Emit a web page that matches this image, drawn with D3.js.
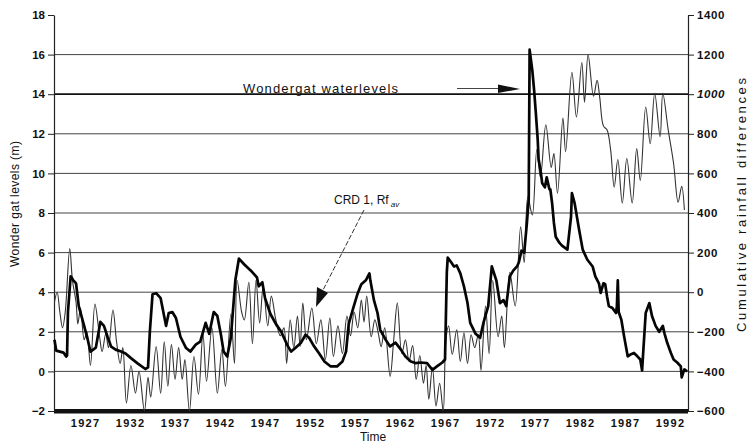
<!DOCTYPE html>
<html>
<head>
<meta charset="utf-8">
<script src="https://cdn.jsdelivr.net/npm/d3@7"></script>
<style>
  html, body { margin: 0; padding: 0; background: #fff; }
  svg { display: block; }
  text { font-family: "Liberation Sans", Arial, sans-serif; fill: #111; }
</style>
</head>
<body>
<svg id="chart" width="753" height="445"></svg>
<script>
// Wondergat water levels (m, left axis)
const levelYears = [1923.6,1923.8,1924.2,1924.6,1924.9,1925.0,1925.1,1925.3,1925.4,1925.7,1926.0,1926.3,1926.9,1927.3,1927.6,1928.2,1928.7,1929.1,1929.5,1929.9,1930.4,1931.0,1931.5,1932.1,1932.8,1933.7,1934.0,1934.2,1934.5,1934.9,1935.4,1936.0,1936.3,1936.7,1937.1,1937.6,1938.2,1938.7,1939.3,1939.8,1940.4,1940.8,1941.3,1941.7,1942.1,1942.4,1942.8,1943.2,1943.7,1944.1,1944.7,1945.4,1946.1,1946.3,1946.7,1947.0,1947.6,1948.2,1948.8,1949.5,1949.9,1950.4,1951.0,1951.5,1951.9,1952.4,1953.0,1953.6,1954.3,1955.0,1955.6,1956.0,1956.3,1956.8,1957.3,1957.7,1958.2,1958.6,1958.7,1959.1,1959.5,1959.8,1960.4,1960.9,1961.5,1962.1,1962.6,1963.2,1963.7,1964.3,1965.0,1965.6,1966.1,1966.7,1967.0,1967.2,1967.3,1967.7,1968.0,1968.3,1968.7,1969.1,1969.5,1969.8,1970.4,1970.9,1971.3,1971.8,1972.2,1972.7,1973.1,1973.5,1973.8,1974.2,1974.6,1975.0,1975.2,1975.5,1975.8,1976.1,1976.3,1976.4,1976.7,1976.9,1977.1,1977.3,1977.4,1977.6,1977.8,1978.1,1978.3,1978.6,1978.7,1978.9,1979.1,1979.3,1979.7,1980.0,1980.6,1981.0,1981.1,1981.4,1981.9,1982.3,1982.8,1983.4,1983.7,1984.1,1984.3,1984.6,1984.8,1985.0,1985.2,1985.6,1986.0,1986.1,1986.2,1986.3,1986.6,1986.9,1987.3,1987.6,1988.0,1988.4,1988.7,1988.9,1989.0,1989.3,1989.7,1990.0,1990.4,1990.8,1991.2,1991.4,1991.7,1992.1,1992.4,1992.8,1993.2,1993.3,1993.6,1993.9];
const levelValues = [1.6,1.05,1.0,0.95,0.75,0.8,3.0,4.2,4.8,4.6,4.45,3.3,2.3,1.6,1.0,1.2,2.5,2.3,1.75,1.25,1.1,1.0,0.9,0.67,0.42,0.12,0.2,2.0,3.9,3.95,3.7,2.3,2.95,3.0,2.7,1.75,1.2,1.0,1.35,1.5,2.45,1.9,3.0,2.8,1.85,1.0,0.75,1.7,4.6,5.7,5.4,5.1,4.75,4.3,4.5,3.7,2.9,2.4,2.0,1.3,1.0,1.2,1.45,1.85,1.7,1.3,0.92,0.5,0.25,0.25,0.5,1.0,2.4,3.2,3.95,4.4,4.6,4.95,4.6,3.6,2.95,2.1,1.6,1.26,1.45,1.1,0.75,0.5,0.42,0.45,0.42,0.08,0.25,0.45,0.6,5.0,5.75,5.5,5.3,5.35,4.95,4.3,3.45,2.45,1.9,1.7,2.5,3.3,5.3,4.6,3.45,3.6,3.3,4.8,5.1,5.3,5.5,6.1,6.0,7.5,8.7,16.25,15.2,14.2,13.0,11.7,10.7,10.2,9.5,9.3,9.8,9.2,9.2,8.5,7.5,6.8,6.5,6.35,6.15,7.8,9.0,8.5,7.15,6.15,5.65,5.3,4.8,4.45,3.96,4.45,4.4,3.8,3.3,3.2,2.95,3.3,4.6,3.0,2.6,1.77,0.76,0.85,0.93,0.75,0.6,0.05,0.8,2.95,3.45,2.8,2.3,2.0,2.3,1.9,1.43,0.93,0.6,0.45,0.25,-0.3,0.1,0.0];

// CRD 1, cumulative rainfall differences (right axis)
const crdYears = [1923.6,1923.9,1924.2,1924.5,1924.8,1925.3,1925.6,1926.0,1926.2,1926.5,1926.9,1927.2,1927.6,1928.1,1928.6,1928.9,1929.3,1929.6,1930.1,1930.5,1930.9,1931.2,1931.6,1932.1,1932.6,1933.0,1933.6,1934.0,1934.3,1934.9,1935.4,1935.8,1936.2,1936.6,1937.0,1937.4,1937.8,1938.1,1938.6,1939.1,1939.6,1940.1,1940.5,1941.1,1941.7,1942.2,1942.6,1943.2,1943.6,1943.9,1944.4,1944.7,1945.2,1945.6,1946.0,1946.4,1946.8,1947.3,1947.7,1948.2,1948.7,1949.1,1949.4,1949.8,1950.2,1950.6,1950.9,1951.2,1951.6,1952.2,1952.7,1953.2,1953.7,1954.2,1954.6,1955.1,1955.6,1956.1,1956.5,1956.9,1957.3,1957.7,1958.0,1958.3,1958.8,1959.2,1959.6,1959.9,1960.3,1960.9,1961.3,1961.7,1962.2,1962.6,1963.0,1963.4,1963.8,1964.2,1964.6,1964.9,1965.2,1965.6,1966.0,1966.4,1966.8,1967.1,1967.4,1967.8,1968.3,1968.7,1969.1,1969.5,1969.9,1970.3,1970.7,1971.0,1971.5,1971.9,1972.3,1972.9,1973.3,1973.6,1974.2,1974.8,1975.4,1975.8,1976.2,1976.7,1977.2,1977.6,1978.2,1978.8,1979.1,1979.5,1980.1,1980.4,1981.1,1981.6,1982.2,1982.5,1982.9,1983.5,1983.9,1984.2,1984.6,1985.0,1985.4,1985.8,1986.2,1986.7,1987.2,1987.8,1988.3,1988.7,1989.3,1989.8,1990.3,1990.9,1991.2,1991.8,1992.4,1992.9,1993.3,1993.6];
const crdValues = [-50,0,-100,-180,-100,220,60,-50,-160,-80,-240,-200,-370,-60,-220,-300,-210,-280,-90,-250,-360,-280,-560,-370,-510,-400,-600,-430,-530,-275,-510,-250,-475,-265,-440,-280,-440,-340,-600,-325,-515,-210,-450,-180,-510,-290,-475,-110,-360,60,-100,-140,50,-260,60,-155,30,-170,-20,-140,-220,-180,-360,-140,-280,-120,-275,-55,-240,-80,-260,-140,-340,-130,-325,-170,-310,-120,-220,-100,-180,-40,-150,-20,-225,-140,-210,-275,-180,-425,-240,-55,-310,-240,-350,-270,-440,-320,-460,-370,-540,-380,-575,-460,-600,-240,-170,-315,-190,-350,-205,-360,-215,-280,-215,-395,-70,-310,60,-225,-120,-280,100,-70,330,150,480,390,720,580,845,630,700,500,880,710,1110,885,1160,960,1200,990,1070,980,840,820,720,530,670,450,675,450,725,565,935,750,1005,785,1005,820,650,455,535,415];

// Axis ticks and labels
const levelTicks = [-2,0,2,4,6,8,10,12,14,16,18];
const crdTicks = [-600,-400,-200,0,200,400,600,800,1000,1200,1400];
const yearTicks = [1927,1932,1937,1942,1947,1952,1957,1962,1967,1972,1977,1982,1987,1992];

const svg = d3.select("#chart");
const plotLeft = 54, plotRight = 688, plotTop = 15, plotBottom = 411;

const x = d3.scaleLinear().domain([1923.55, 1994.0]).range([plotLeft, plotRight]);
const yL = d3.scaleLinear().domain([-2, 18]).range([plotBottom, plotTop]);
const yR = d3.scaleLinear().domain([-600, 1400]).range([plotBottom, plotTop]);

// horizontal grid
svg.append("g").selectAll("line")
  .data(levelTicks.filter(v => v > -2 && v < 18))
  .join("line")
  .attr("x1", plotLeft).attr("x2", plotRight)
  .attr("y1", d => yL(d)).attr("y2", d => yL(d))
  .attr("stroke", d => d === 14 ? "#111" : "#444")
  .attr("stroke-width", d => d === 14 ? 1.8 : 1);

// heavy base line at -2
svg.append("rect")
  .attr("x", plotLeft).attr("y", yL(-2) - 2)
  .attr("width", plotRight - plotLeft).attr("height", 4.5)
  .attr("fill", "#111");

// left axis
const axL = svg.append("g")
  .attr("transform", `translate(${plotLeft},0)`)
  .call(d3.axisLeft(yL).tickValues(levelTicks).tickSize(6).tickSizeOuter(0).tickPadding(3));
axL.select(".domain").attr("stroke", "#222").attr("stroke-width", 1.2);
axL.selectAll(".tick line").attr("stroke", "#222");
axL.selectAll(".tick text")
  .style("font-family", "'Liberation Sans', Arial, sans-serif")
  .style("font-size", "11.5px").style("font-weight", "bold")
  .attr("fill", "#222");

// right axis
const axR = svg.append("g")
  .attr("transform", `translate(${plotRight},0)`)
  .call(d3.axisRight(yR).tickValues(crdTicks).tickFormat(d3.format("d")).tickSize(6).tickSizeOuter(0).tickPadding(3));
axR.select(".domain").attr("stroke", "#222").attr("stroke-width", 1.2);
axR.selectAll(".tick line").attr("stroke", "#222");
axR.selectAll(".tick text")
  .style("font-family", "'Liberation Sans', Arial, sans-serif")
  .style("font-size", "11.5px").style("font-weight", "bold")
  .style("letter-spacing", "0.6px")
  .style("font-style", d => d === 1000 ? "italic" : "normal")
  .attr("fill", "#222");

// year labels
const axX = svg.append("g")
  .attr("transform", `translate(0,${plotBottom})`)
  .call(d3.axisBottom(x).tickValues(yearTicks).tickFormat(d3.format("d")).tickSize(0).tickPadding(8));
axX.select(".domain").remove();
axX.selectAll(".tick text")
  .style("font-family", "'Liberation Sans', Arial, sans-serif")
  .style("font-size", "11px").style("font-weight", "bold")
  .style("letter-spacing", "1.3px")
  .attr("fill", "#333");

// CRD 1 series (thin)
svg.append("path")
  .datum(crdYears.map((t, i) => [t, crdValues[i]]))
  .attr("fill", "none")
  .attr("stroke", "#333")
  .attr("stroke-width", 1.1)
  .attr("d", d3.line().x(d => x(d[0])).y(d => yR(d[1])).curve(d3.curveCatmullRom.alpha(0.5)));

// Wondergat water levels (thick)
svg.append("path")
  .datum(levelYears.map((t, i) => [t, levelValues[i]]))
  .attr("fill", "none")
  .attr("stroke", "#050505")
  .attr("stroke-width", 2.7)
  .attr("stroke-linejoin", "round")
  .attr("d", d3.line().x(d => x(d[0])).y(d => yL(d[1])));

// axis titles
svg.append("text")
  .attr("transform", `translate(19,204) rotate(-90)`)
  .attr("text-anchor", "middle")
  .attr("textLength", 126).attr("lengthAdjust", "spacing")
  .style("font-size", "12px")
  .text("Wonder gat levels (m)");

svg.append("text")
  .attr("transform", `translate(746,205) rotate(-90)`)
  .attr("text-anchor", "middle")
  .attr("textLength", 254).attr("lengthAdjust", "spacing")
  .style("font-size", "13px")
  .text("Cumulative rainfall differences");

svg.append("text")
  .attr("x", 373).attr("y", 441)
  .attr("text-anchor", "middle")
  .style("font-size", "12px")
  .text("Time");

// annotation: water levels
svg.append("text")
  .attr("x", 243).attr("y", 93)
  .attr("textLength", 155).attr("lengthAdjust", "spacing")
  .style("font-size", "13px")
  .text("Wondergat waterlevels");
svg.append("line")
  .attr("x1", 457).attr("x2", 500).attr("y1", 88.5).attr("y2", 88.5)
  .attr("stroke", "#444").attr("stroke-width", 1);
svg.append("path")
  .attr("d", "M498,84.5 L520,89 L498,93 Z")
  .attr("fill", "#111");

// annotation: CRD 1
const crdLabel = svg.append("text")
  .attr("x", 334).attr("y", 204)
  .style("font-size", "12px");
crdLabel.append("tspan").text("CRD 1, Rf");
crdLabel.append("tspan")
  .attr("dx", 2).attr("dy", 3)
  .style("font-size", "8px").style("font-style", "italic")
  .text("av");
svg.append("line")
  .attr("x1", 364).attr("y1", 210).attr("x2", 322).attr("y2", 292)
  .attr("stroke", "#333").attr("stroke-width", 1)
  .attr("stroke-dasharray", "5,2");
svg.append("path")
  .attr("d", "M316,307 L317,287 L328,293 Z")
  .attr("fill", "#111");
</script>
</body>
</html>
